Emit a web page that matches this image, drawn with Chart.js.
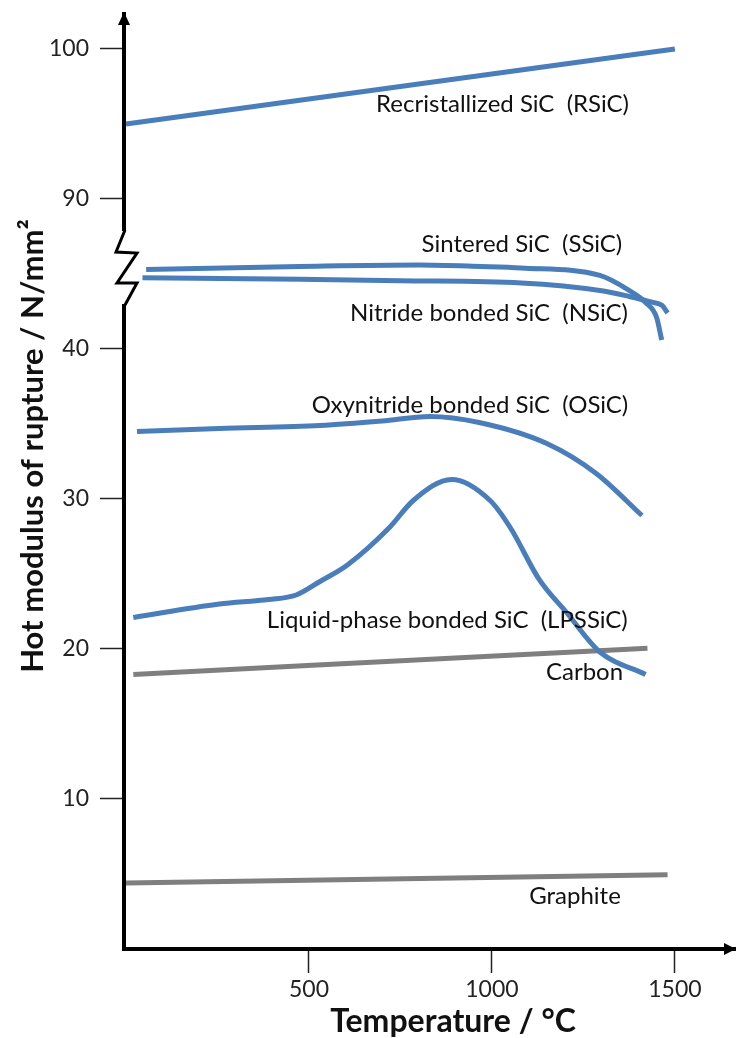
<!DOCTYPE html>
<html>
<head>
<meta charset="utf-8">
<script src="https://cdn.jsdelivr.net/npm/chart.js@4.4.0/dist/chart.umd.min.js"></script>
<style>
  html, body { margin: 0; padding: 0; background: #fff; }
  canvas { display: block; }
</style>
</head>
<body>
<canvas id="chart" width="736" height="1038"></canvas>
<script>
// temperatures (°C) and hot modulus of rupture (N/mm²)
const rsicTemp = [0, 1500];
const rsicVal = [95, 100];

const ssicTemp = [55, 475, 800, 970, 1080, 1295, 1375, 1420, 1450, 1464];
const ssicVal = [45.3, 45.5, 45.6, 45.5, 45.4, 44.9, 43.9, 43.1, 42.1, 40.6];

const nsicTemp = [45, 475, 750, 1080, 1295, 1375, 1440, 1465, 1480];
const nsicVal = [44.75, 44.65, 44.55, 44.4, 43.9, 43.5, 43.1, 42.9, 42.4];

const osicTemp = [30, 255, 530, 700, 830, 965, 1150, 1285, 1410];
const osicVal = [34.5, 34.7, 34.9, 35.2, 35.5, 35.1, 33.7, 31.7, 28.9];

const lpssicTemp = [20, 255, 390, 465, 530, 605, 720, 785, 890, 995, 1050, 1130, 1205, 1295, 1420];
const lpssicVal = [22.1, 23.0, 23.3, 23.6, 24.5, 25.6, 28.1, 29.9, 31.3, 29.9, 28.1, 24.6, 22.4, 19.8, 18.3];

const carbonTemp = [20, 1425];
const carbonVal = [18.3, 20.05];

const graphiteTemp = [0, 1480];
const graphiteVal = [4.4, 4.95];

const xTicks = [500, 1000, 1500];
const yTicks = [10, 20, 30, 40, 90, 100];

// broken axis: everything from 90 up is shifted down by 40
const BREAK_SHIFT = 40;
const toAxis = v => v >= 80 ? v - BREAK_SHIFT : v;
const fromAxis = v => v >= 50 ? v + BREAK_SHIFT : v;

const BLUE = '#4a7ebb';
const GREY = '#7f7f7f';

// text annotations, in axis units (temperature, plotted value)
const notes = [
  { text: 'Recristallized SiC  (RSiC)', x: 1029, y: 56.33 },
  { text: 'Sintered SiC  (SSiC)', x: 1082, y: 47.0 },
  { text: 'Nitride bonded SiC  (NSiC)', x: 992, y: 42.4 },
  { text: 'Oxynitride bonded SiC  (OSiC)', x: 940, y: 36.27 },
  { text: 'Liquid-phase bonded SiC  (LPSSiC)', x: 878, y: 21.93 },
  { text: 'Carbon', x: 1253, y: 18.45 },
  { text: 'Graphite', x: 1227, y: 3.5 }
];

function series(temps, vals, color) {
  return {
    data: temps.map((t, i) => ({ x: t, y: toAxis(vals[i]) })),
    borderColor: color,
    borderWidth: 5,
    showLine: true,
    pointRadius: 0,
    cubicInterpolationMode: 'monotone',
    fill: false
  };
}

function noPadding(s) {
  s.paddingTop = 0;
  s.paddingBottom = 0;
  s.paddingLeft = 0;
  s.paddingRight = 0;
}

const decorations = {
  id: 'decorations',
  afterDraw(chart) {
    const ctx = chart.ctx;
    const xs = chart.scales.x, ys = chart.scales.y;
    const ax = chart.chartArea.left, ay = chart.chartArea.bottom;
    ctx.save();

    // axis break (zigzag)
    ctx.fillStyle = '#fff';
    ctx.fillRect(ax - 4, 231, 8, 73);
    ctx.strokeStyle = '#000';
    ctx.lineWidth = 3;
    ctx.lineJoin = 'miter';
    ctx.beginPath();
    ctx.moveTo(ax + 1, 230);
    ctx.lineTo(ax - 8, 252);
    ctx.lineTo(ax + 13, 253);
    ctx.lineTo(ax - 7, 283);
    ctx.lineTo(ax + 13, 283);
    ctx.lineTo(ax + 1, 305);
    ctx.stroke();

    // arrow heads
    ctx.fillStyle = '#000';
    ctx.beginPath();
    ctx.moveTo(ax, chart.chartArea.top - 2);
    ctx.lineTo(ax - 6, chart.chartArea.top + 11);
    ctx.lineTo(ax + 6, chart.chartArea.top + 11);
    ctx.closePath();
    ctx.fill();
    ctx.beginPath();
    ctx.moveTo(chart.width, ay);
    ctx.lineTo(chart.width - 12, ay - 6);
    ctx.lineTo(chart.width - 12, ay + 6);
    ctx.closePath();
    ctx.fill();

    // curve labels
    ctx.fillStyle = '#111';
    ctx.font = '24px Lato';
    ctx.textAlign = 'center';
    ctx.textBaseline = 'middle';
    notes.forEach(n => {
      ctx.fillText(n.text, xs.getPixelForValue(n.x), ys.getPixelForValue(n.y));
    });

    // axis titles
    ctx.font = 'bold 32px Lato';
    ctx.fillText('Temperature / °C', 453, 1022);
    ctx.font = 'bold 31px Lato';
    ctx.translate(33, 446);
    ctx.rotate(-Math.PI / 2);
    ctx.fillText('Hot modulus of rupture / N/mm²', 0, 0);
    ctx.restore();
  }
};

new Chart(document.getElementById('chart').getContext('2d'), {
  type: 'scatter',
  data: {
    datasets: [
      series(rsicTemp, rsicVal, BLUE),
      series(ssicTemp, ssicVal, BLUE),
      series(nsicTemp, nsicVal, BLUE),
      series(osicTemp, osicVal, BLUE),
      series(lpssicTemp, lpssicVal, BLUE),
      series(carbonTemp, carbonVal, GREY),
      series(graphiteTemp, graphiteVal, GREY)
    ]
  },
  options: {
    responsive: false,
    animation: false,
    layout: { padding: { top: 14, right: 0, bottom: 0, left: 0 } },
    plugins: { legend: { display: false }, tooltip: { enabled: false } },
    scales: {
      x: {
        type: 'linear',
        min: -5.5,
        max: 1667,
        afterBuildTicks: s => { s.ticks = xTicks.map(v => ({ value: v })); },
        afterFit: s => { s.height = 89; noPadding(s); },
        grid: { drawOnChartArea: false, drawTicks: true, tickLength: 24, tickWidth: 1.5, tickColor: '#222' },
        border: { display: true, color: '#000', width: 4 },
        ticks: {
          font: { family: 'Lato', size: 23 },
          color: '#222',
          padding: 3,
          maxRotation: 0,
          callback: v => String(v)
        }
      },
      y: {
        type: 'linear',
        min: 0,
        max: 62.33,
        afterBuildTicks: s => { s.ticks = yTicks.map(v => ({ value: toAxis(v) })); },
        afterFit: s => { s.width = 124; noPadding(s); },
        grid: { drawOnChartArea: false, drawTicks: true, tickLength: 24, tickWidth: 1.5, tickColor: '#222' },
        border: { display: true, color: '#000', width: 4 },
        ticks: {
          font: { family: 'Lato', size: 23 },
          color: '#222',
          padding: 11,
          callback: v => String(fromAxis(v))
        }
      }
    }
  },
  plugins: [decorations]
});
</script>
</body>
</html>
